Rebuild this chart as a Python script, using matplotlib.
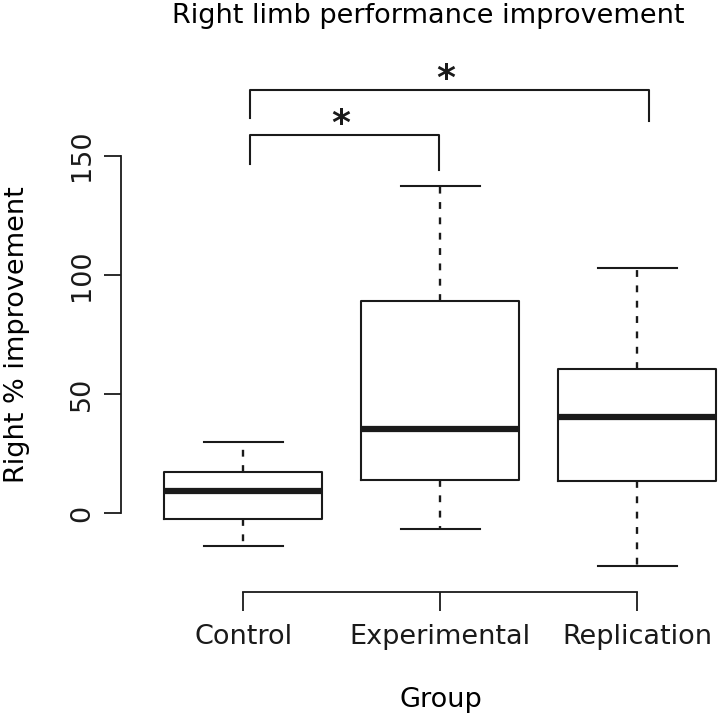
import matplotlib
matplotlib.use("Agg")
import matplotlib.pyplot as plt

# box statistics (Right % improvement)
groups = ["Control", "Experimental", "Replication"]
whisk_lo = [-13.8, -6.6, -22.2]
q1 = [-2.4, 14.0, 13.7]
medians = [9.4, 35.5, 40.5]
q3 = [17.4, 89.0, 60.4]
whisk_hi = [30.0, 137.4, 103.0]
yticks = [0, 50, 100, 150]

# significance brackets: (left group, right group, bar height, left drop, right drop)
brackets = [(1, 2, 158.6, 146.3, 143.9), (1, 3, 177.7, 165.7, 164.5)]

W, H = 720, 718
fig = plt.figure(figsize=(W / 100, H / 100), dpi=100)
plt.rcParams["font.family"] = "DejaVu Sans"
FS = 19.5

# axes placed so the spines sit where R drew them
left_px, right_px, top_px, bot_px = 121, 726, 60.3, 591.7
ax = fig.add_axes([left_px / W, 1 - bot_px / H, (right_px - left_px) / W, (bot_px - top_px) / H])
ax.set_xlim(0.38, 3.45)
ax.set_ylim(-32.9, 190)

stats = []
for i, g in enumerate(groups):
    stats.append({"label": g, "whislo": whisk_lo[i], "q1": q1[i], "med": medians[i],
                  "q3": q3[i], "whishi": whisk_hi[i], "fliers": []})

ax.bxp(stats, positions=[1, 2, 3], widths=0.8, showfliers=False,
       boxprops=dict(color="#1a1a1a", linewidth=1.5),
       medianprops=dict(color="#1a1a1a", linewidth=4.5, solid_capstyle="butt"),
       whiskerprops=dict(color="#1a1a1a", linewidth=1.7, linestyle=(0, (2.9, 3.6))),
       capprops=dict(color="#1a1a1a", linewidth=1.5), capwidths=0.4)

for s in ["top", "right"]:
    ax.spines[s].set_visible(False)
ax.spines["left"].set_bounds(0, 150)
ax.spines["bottom"].set_bounds(1, 3)
for s in ["left", "bottom"]:
    ax.spines[s].set_linewidth(1.3)
    ax.spines[s].set_color("#1a1a1a")

ax.set_yticks(yticks)
ax.set_yticklabels([str(t) for t in yticks], rotation=90, va="center", fontsize=FS)
ax.set_xticks([1, 2, 3])
ax.set_xticklabels(groups, fontsize=FS)
ax.tick_params(axis="y", length=12.5, width=1.3, pad=6, colors="#1a1a1a")
ax.tick_params(axis="x", length=13.5, width=1.3, pad=10, colors="#1a1a1a")

for x0, x1, yb, d0, d1 in brackets:
    xa = x0 + 0.036
    xb = x1 + (0.057 if x1 == 3 else -0.004)
    ax.plot([xa, xa, xb, xb], [d0, yb, yb, d1], color="#1a1a1a", lw=1.5, clip_on=False)
    ax.text((xa + xb) / 2 - 0.02, yb - 2.5, "*", ha="center", va="bottom", fontsize=26,
            fontweight="bold", color="#1a1a1a", clip_on=False)

fig.text(428 / W, 1 - 16 / H, "Right limb performance improvement",
         ha="center", va="center", fontsize=FS)
fig.text(441 / W, 1 - 700 / H, "Group", ha="center", va="center", fontsize=FS)
fig.text(17 / W, 1 - 335 / H, "Right % improvement", ha="center", va="center",
         rotation=90, fontsize=FS)

fig.savefig("out.png", dpi=100)
